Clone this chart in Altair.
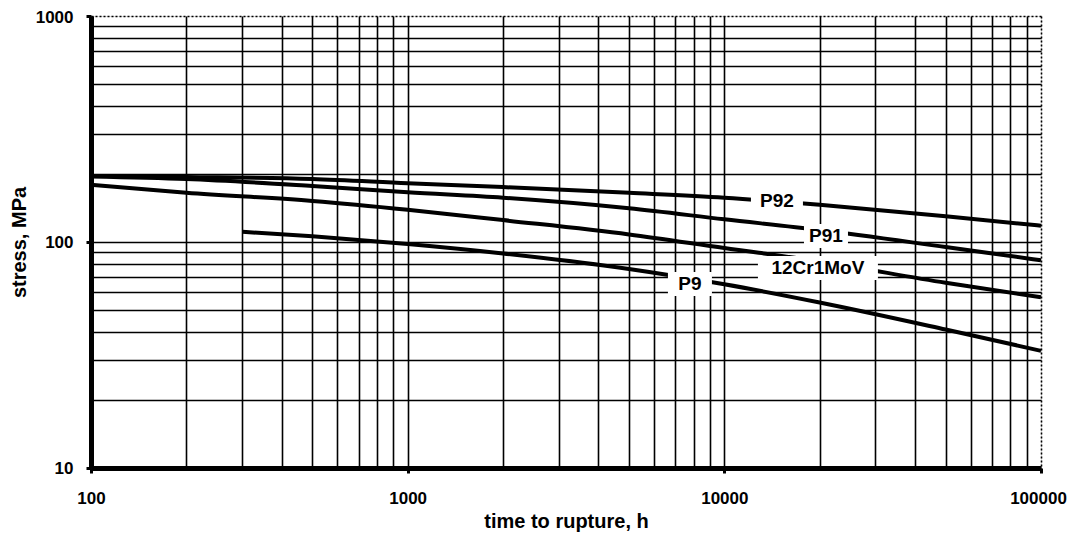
import altair as alt
import pandas as pd

# ---- data ----
time_h = [100, 200, 500, 1000, 2000, 5000, 10000, 20000, 50000, 100000]
p92 = [196, 194, 190, 182, 175, 165, 157, 146, 130, 118]
p91 = [195, 190, 177, 166, 157, 141, 126, 113, 95, 83]
cr12 = [179, 165, 152, 139, 125, 108, 94, 82, 66, 57]
p9_time = [300, 500, 1000, 2000, 5000, 10000, 20000, 50000, 100000]
p9 = [111, 106, 98, 89, 76, 65, 54, 41, 33]

label_names = ["P92", "P91", "12Cr1MoV", "P9"]
label_time = [14660, 20940, 19750, 7787]
label_stress = [151.9, 106.3, 76.7, 65.2]

x_ticks = [100, 200, 300, 400, 500, 600, 700, 800, 900,
           1000, 2000, 3000, 4000, 5000, 6000, 7000, 8000, 9000,
           10000, 20000, 30000, 40000, 50000, 60000, 70000, 80000, 90000,
           100000]
x_major = [100, 1000, 10000, 100000]
y_ticks = [10, 20, 30, 40, 50, 60, 70, 80, 90,
           100, 200, 300, 400, 500, 600, 700, 800, 900, 1000]
y_major = [10, 100, 1000]

# ---- tables ----
rows = []
for name, ts, vs in [("P92", time_h, p92), ("P91", time_h, p91),
                     ("12Cr1MoV", time_h, cr12), ("P9", p9_time, p9)]:
    for t, v in zip(ts, vs):
        rows.append({"series": name, "time": t, "stress": v})
lines_df = pd.DataFrame(rows)
labels_df = pd.DataFrame({"name": label_names, "time": label_time, "stress": label_stress})

FONT = "Liberation Sans"


def major_test(vals):
    return "indexof([" + ",".join(str(v) for v in vals) + "], datum.value) >= 0"


x_scale = alt.Scale(type="log", domain=[100, 100000], nice=False)
y_scale = alt.Scale(type="log", domain=[10, 1000], nice=False)

x_axis = alt.Axis(
    values=x_ticks, format="d",
    labelExpr=major_test(x_major) + " ? datum.label : ''",
    grid=True, gridColor="black", gridWidth=1.6, gridOpacity=1,
    gridDash={"condition": {"test": "datum.value == 100000", "value": [2, 2]}, "value": []},
    domainColor="black", domainWidth=5,
    tickColor="black", tickWidth=3, tickSize=5,
    tickOpacity={"condition": {"test": major_test(x_major), "value": 1}, "value": 0},
    labelFont=FONT, labelFontSize=17, labelFontWeight="bold", labelColor="black",
    labelPadding=17, labelFlush=False, labelOverlap=False,
    labelOffset={"condition": {"test": "datum.value == 100000", "value": -3}, "value": 0},
    title="time to rupture, h", titleFont=FONT, titleFontSize=20,
    titleFontWeight="bold", titleColor="black", titlePadding=5,
)

y_axis = alt.Axis(
    values=y_ticks, format="d",
    labelExpr=major_test(y_major) + " ? datum.label : ''",
    grid=True, gridColor="black", gridWidth=1.6, gridOpacity=1,
    gridDash={"condition": {"test": "datum.value == 1000", "value": [2, 2]}, "value": []},
    domainColor="black", domainWidth=5,
    tickColor="black", tickWidth=3, tickSize=5,
    tickOpacity={"condition": {"test": major_test(y_major), "value": 1}, "value": 0},
    labelFont=FONT, labelFontSize=17, labelFontWeight="bold", labelColor="black",
    labelPadding=13, labelFlush=False, labelOverlap=False,
    labelOffset={"condition": {"test": "datum.value == 1000", "value": 1}, "value": 0},
    title="stress, MPa", titleFont=FONT, titleFontSize=20,
    titleFontWeight="bold", titleColor="black", titlePadding=6,
)

lines = alt.Chart(lines_df).mark_line(
    color="black", strokeWidth=4, interpolate="monotone", strokeCap="butt"
).encode(
    x=alt.X("time:Q", scale=x_scale, axis=x_axis),
    y=alt.Y("stress:Q", scale=y_scale, axis=y_axis),
    detail="series:N",
)

box_width = {"P92": 52, "P91": 44, "12Cr1MoV": 120, "P9": 44}
box_height = 24

layers = [lines]
for name in label_names:
    w = box_width[name]
    hu = round((box_height / 2) / (w / 2), 4)
    path = f"M-1,-{hu}L1,-{hu}L1,{hu}L-1,{hu}Z"
    box = alt.Chart(labels_df).transform_filter(
        alt.datum.name == name
    ).mark_point(
        shape=path, size=w * w, filled=True, fill="white", opacity=1, strokeWidth=0
    ).encode(
        x=alt.X("time:Q", scale=x_scale),
        y=alt.Y("stress:Q", scale=y_scale),
    )
    layers.append(box)

texts = alt.Chart(labels_df).mark_text(
    font=FONT, fontSize=19, fontWeight="bold", color="black",
    align="center", baseline="middle"
).encode(
    x=alt.X("time:Q", scale=x_scale),
    y=alt.Y("stress:Q", scale=y_scale),
    text="name:N",
)
layers.append(texts)

chart = alt.layer(*layers).properties(
    width=950, height=452,
    autosize=alt.AutoSizeParams(type="none"),
    padding={"left": 83, "top": 8, "right": 27, "bottom": 64},
).configure_view(stroke=None).configure(background="white")

chart.save("out.html", embed_options={"renderer": "svg", "actions": False})
